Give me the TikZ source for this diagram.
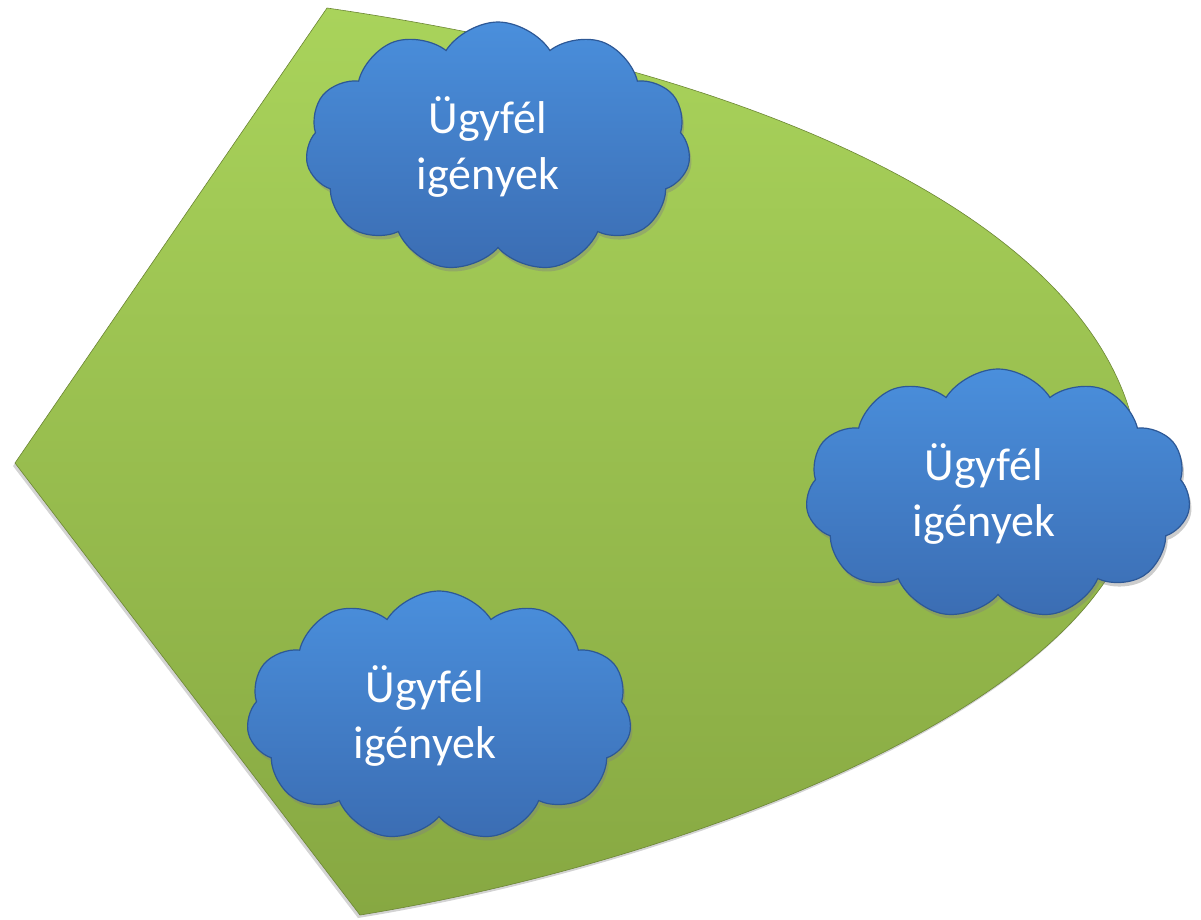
\documentclass[tikz,border=0pt]{standalone}
\usepackage{fontspec}
\setmainfont{Carlito}
\usetikzlibrary{shapes.symbols,shadows}

\definecolor{leafTop}{HTML}{A9D35B}
\definecolor{leafBot}{HTML}{87A842}
\definecolor{cloudTop}{HTML}{4A8FDC}
\definecolor{cloudBot}{HTML}{3B6DB3}
\definecolor{cloudEdge}{HTML}{2D5896}

\tikzset{
	leaf/.style={top color=leafTop, bottom color=leafBot, draw=leafBot!80!black, line width=0.6pt,
		drop shadow={opacity=0.35, shadow xshift=-2pt, shadow yshift=-3pt}},
	need/.style={cloud, cloud puffs=11, cloud puff arc=115, aspect=1.55,
		minimum width=385pt, minimum height=250pt, inner sep=0pt,
		top color=cloudTop, bottom color=cloudBot, draw=cloudEdge, line width=1.2pt,
		drop shadow={opacity=0.4, shadow xshift=2pt, shadow yshift=-4pt}},
	needtext/.style={text=white, align=center, font=\fontsize{46}{56}\selectfont}
}

\begin{document}
\begin{tikzpicture}[x=1pt, y=-1pt]
	\useasboundingbox (0,0) rectangle (1201,919);

	% Green shape {top, left, bottom corner and curved right side}
	\coordinate (top)    at (327,8);
	\coordinate (left)   at (15,463);
	\coordinate (bottom) at (360,915);
	\coordinate (right)  at (1140,480);
	\path [leaf] (top) .. controls (810,78) and (1140,250) .. (right)
		.. controls (1138,690) and (700,860) .. (bottom) -- (left) -- cycle;

	% Clouds
	\node [need] (needtop)    at (498,147) {};
	\node [need] (needright)  at (998,494) {};
	\node [need] (needbottom) at (439,716) {};

	% Texts, a little left of the cloud centres
	\node [needtext] (needtoptext)    at ([xshift=-10pt]needtop.center)    {Ügyfél\\igények};
	\node [needtext] (needrighttext)  at ([xshift=-14pt]needright.center)  {Ügyfél\\igények};
	\node [needtext] (needbottomtext) at ([xshift=-14pt]needbottom.center) {Ügyfél\\igények};

\end{tikzpicture}
\end{document}
